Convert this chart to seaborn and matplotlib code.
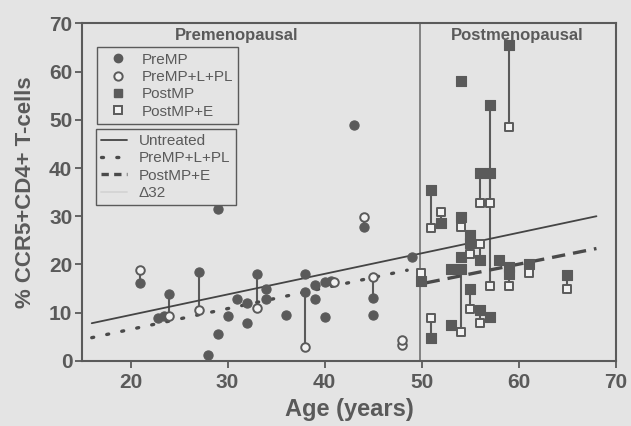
import matplotlib
matplotlib.use('Agg')

import seaborn as sns
import numpy as np
import pandas as pd
import matplotlib.pyplot as plt
from matplotlib.lines import Line2D

BG = '#e4e4e4'
INK = '#5a5a5a'
OPEN_FACE = '#f2f2f2'

# premenopausal women measured untreated (PreMP) and after L+PL treatment
pre_pair_age = [21, 24, 27, 33, 38, 44, 45]
pre_pair_untreated = [16.2, 13.8, 18.5, 18.0, 14.2, 27.8, 13.0]
pre_pair_treated = [18.8, 9.3, 10.5, 11.0, 2.8, 29.8, 17.3]

pre_only_age = [22.8, 23.4, 28, 29, 29, 30, 31, 32, 32, 34, 34, 36, 38, 39, 39,
                40, 40.6, 40, 43, 45, 49]
pre_only_val = [8.8, 9.3, 1.2, 5.5, 31.5, 9.2, 12.8, 12.0, 7.8, 15.0, 12.8, 9.5,
                18.0, 15.8, 12.8, 16.3, 16.5, 9.0, 49.0, 9.5, 21.5]

lpl_only_age = [41, 48, 48]
lpl_only_val = [16.3, 3.3, 4.3]

# postmenopausal women untreated (PostMP) and after E treatment
post_pair_age = [49.9, 51, 51, 52, 54, 54, 55, 55, 56, 56, 56, 57, 57, 59, 59, 61, 65]
post_pair_untreated = [16.6, 35.5, 4.8, 28.5, 29.8, 19.0, 24.5, 15.0, 39.0, 21.0,
                       10.6, 53.0, 39.0, 65.5, 19.5, 20.0, 17.8]
post_pair_treated = [18.2, 27.5, 8.8, 30.8, 27.8, 6.0, 22.2, 10.8, 32.8, 24.2,
                     7.8, 15.5, 32.8, 48.5, 15.5, 18.3, 15.0]

post_only_age = [53, 53, 54, 54, 55, 57, 58, 59]
post_only_val = [19.0, 7.5, 58.0, 21.6, 26.2, 9.0, 21.0, 18.0]

# fitted lines (end points)
fit_untreated_x = [16, 68]
fit_untreated_y = [7.8, 30.0]
fit_lpl_x = [16, 48.5]
fit_lpl_y = [4.8, 18.8]
fit_e_x = [50.5, 68]
fit_e_y = [16.2, 23.3]

menopause_age = 49.8

x_ticks = [20, 30, 40, 50, 60, 70]
y_ticks = [0, 10, 20, 30, 40, 50, 60, 70]

sns.set_theme(style='ticks', rc={
    'figure.facecolor': BG,
    'axes.facecolor': BG,
    'axes.edgecolor': INK,
    'axes.linewidth': 1.5,
    'xtick.color': INK,
    'ytick.color': INK,
    'text.color': INK,
    'axes.labelcolor': INK,
})
plt.rcParams['font.family'] = ['Liberation Sans', 'DejaVu Sans']

fig = plt.figure(figsize=(6.31, 4.26), dpi=100)
ax = fig.add_axes([0.130, 0.153, 0.846, 0.792])

untreated = pd.DataFrame({
    'age': pre_pair_age + pre_only_age,
    'val': pre_pair_untreated + pre_only_val,
})
treated_lpl = pd.DataFrame({
    'age': pre_pair_age + lpl_only_age,
    'val': pre_pair_treated + lpl_only_val,
})
post_untreated = pd.DataFrame({
    'age': post_pair_age + post_only_age,
    'val': post_pair_untreated + post_only_val,
})
post_e = pd.DataFrame({'age': post_pair_age, 'val': post_pair_treated})

# connectors between paired measurements
ax.vlines(pre_pair_age, pre_pair_untreated, pre_pair_treated, color=INK, lw=1.5, zorder=2)
ax.vlines(post_pair_age, post_pair_untreated, post_pair_treated, color=INK, lw=1.5, zorder=2)
ax.axvline(menopause_age, color='#7a7a7a', lw=1.3, zorder=1)

sns.lineplot(x=fit_untreated_x, y=fit_untreated_y, ax=ax, color='#444444', lw=1.3, zorder=3)
ax.plot(fit_lpl_x, fit_lpl_y, color='#4a4a4a', lw=2.4, linestyle=(0, (0.6, 4.0)),
        dash_capstyle='round', zorder=3)
ax.plot(fit_e_x, fit_e_y, color='#4a4a4a', lw=2.4, linestyle=(0, (4, 2.4)), zorder=3)

sns.scatterplot(data=untreated, x='age', y='val', ax=ax, marker='o', s=44,
                color=INK, edgecolor=INK, linewidth=0.8, zorder=4)
sns.scatterplot(data=treated_lpl, x='age', y='val', ax=ax, marker='o', s=38,
                color=OPEN_FACE, edgecolor=INK, linewidth=1.4, zorder=5)
sns.scatterplot(data=post_untreated, x='age', y='val', ax=ax, marker='s', s=42,
                color=INK, edgecolor=INK, linewidth=0.8, zorder=4)
sns.scatterplot(data=post_e, x='age', y='val', ax=ax, marker='s', s=36,
                color=OPEN_FACE, edgecolor=INK, linewidth=1.4, zorder=5)

ax.set_xlim(15, 70)
ax.set_ylim(0, 70)
ax.set_xticks(x_ticks)
ax.set_yticks(y_ticks)
ax.tick_params(axis='both', direction='out', length=5, width=1.3, labelsize=15)
ax.tick_params(axis='x', pad=4)
ax.tick_params(axis='y', pad=2)
for lab in ax.get_xticklabels() + ax.get_yticklabels():
    lab.set_fontweight('bold')

ax.set_xlabel('Age (years)', fontsize=17, fontweight='bold', labelpad=4)
ax.set_ylabel('% CCR5+CD4+ T-cells', fontsize=16, fontweight='bold', labelpad=9)

ax.text(0.29, 0.965, 'Premenopausal', transform=ax.transAxes, ha='center', va='center',
        fontsize=12, fontweight='bold')
ax.text(0.816, 0.965, 'Postmenopausal', transform=ax.transAxes, ha='center', va='center',
        fontsize=12, fontweight='bold')

marker_handles = [
    Line2D([], [], marker='o', ls='', color=INK, markersize=6),
    Line2D([], [], marker='o', ls='', markerfacecolor=OPEN_FACE, markeredgecolor=INK,
           markeredgewidth=1.4, markersize=6),
    Line2D([], [], marker='s', ls='', color=INK, markersize=5.5),
    Line2D([], [], marker='s', ls='', markerfacecolor=OPEN_FACE, markeredgecolor=INK,
           markeredgewidth=1.4, markersize=5.5),
]
marker_labels = ['PreMP', 'PreMP+L+PL', 'PostMP', 'PostMP+E']

line_handles = [
    Line2D([], [], color='#444444', lw=1.3),
    Line2D([], [], color='#4a4a4a', lw=2.4, linestyle=(0, (0.6, 4.0)), dash_capstyle='round'),
    Line2D([], [], color='#4a4a4a', lw=2.4, linestyle=(0, (2.2, 1.6))),
    Line2D([], [], color='#d4d4d4', lw=1.3),
]
line_labels = ['Untreated', 'PreMP+L+PL', 'PostMP+E', '\u039432']

legend_kw = dict(loc='upper left', fontsize=11, frameon=True, fancybox=False,
                 edgecolor=INK, facecolor=BG, framealpha=1, borderaxespad=0,
                 labelspacing=0.22, borderpad=0.35, labelcolor=INK)
leg1 = ax.legend(marker_handles, marker_labels, bbox_to_anchor=(0.028, 0.929),
                 handlelength=2.0, handletextpad=0.55, **legend_kw)
leg1.get_frame().set_linewidth(1.0)
ax.add_artist(leg1)
leg2 = ax.legend(line_handles, line_labels, bbox_to_anchor=(0.026, 0.688),
                 handlelength=1.7, handletextpad=0.75, **legend_kw)
leg2.get_frame().set_linewidth(1.0)

for sp in ax.spines.values():
    sp.set_color(INK)
    sp.set_linewidth(1.5)

fig.savefig('out.png', dpi=100, facecolor=BG)
plt.close('all')
